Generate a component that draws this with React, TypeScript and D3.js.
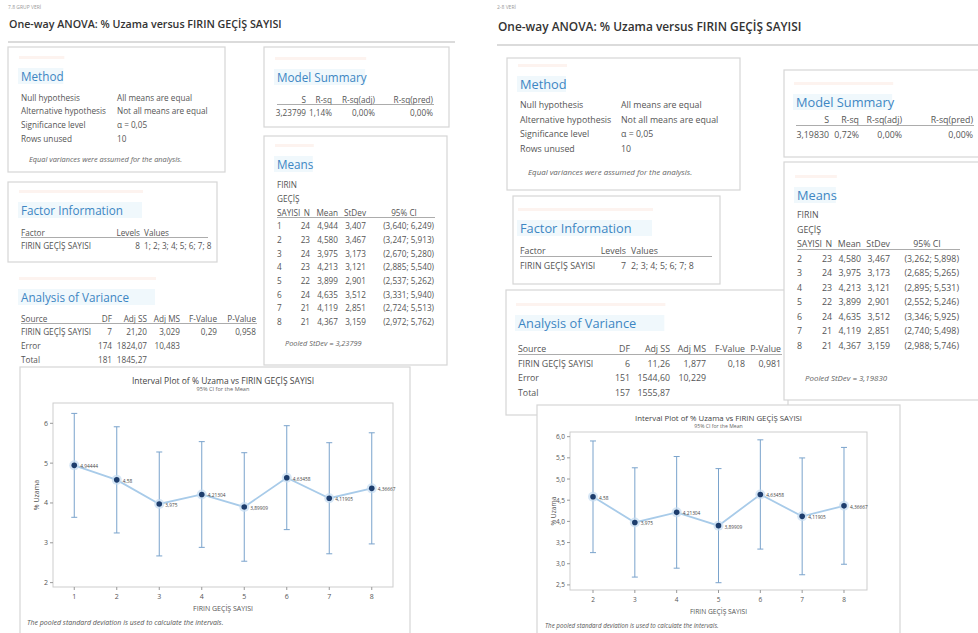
import React from "react";
import * as d3 from "d3";

const FONT = "'Open Sans', 'Noto Sans', Arial, sans-serif";
const HEAD = "#3D86C3";
const TXT = "#555";
const BORDER = "#d6d6d6";

// ---- left output: FIRIN GEÇİŞ SAYISI 1..8
const groupsA = [1, 2, 3, 4, 5, 6, 7, 8];
const nA = [24, 23, 24, 23, 22, 24, 21, 21];
const meanA = [4.944, 4.58, 3.975, 4.213, 3.899, 4.635, 4.119, 4.367];
const sdA = [3.407, 3.467, 3.173, 3.121, 2.901, 3.512, 2.851, 3.159];
const loA = [3.64, 3.247, 2.67, 2.885, 2.537, 3.331, 2.724, 2.972];
const hiA = [6.249, 5.913, 5.28, 5.54, 5.262, 5.94, 5.513, 5.762];
const pointLabelsA = ["4,94444", "4,58", "3,975", "4,21304", "3,89909", "4,63458", "4,11905", "4,36667"];
const yTicksA = [2, 3, 4, 5, 6];
const modelA = ["3,23799", "1,14%", "0,00%", "0,00%"];
const anovaA = [
  ["FIRIN GEÇİŞ SAYISI", "7", "21,20", "3,029", "0,29", "0,958"],
  ["Error", "174", "1824,07", "10,483", "", ""],
  ["Total", "181", "1845,27", "", "", ""],
];

// ---- right output: FIRIN GEÇİŞ SAYISI 2..8
const groupsB = [2, 3, 4, 5, 6, 7, 8];
const nB = [23, 24, 23, 22, 24, 21, 21];
const meanB = [4.58, 3.975, 4.213, 3.899, 4.635, 4.119, 4.367];
const sdB = [3.467, 3.173, 3.121, 2.901, 3.512, 2.851, 3.159];
const loB = [3.262, 2.685, 2.895, 2.552, 3.346, 2.74, 2.988];
const hiB = [5.898, 5.265, 5.531, 5.246, 5.925, 5.498, 5.746];
const pointLabelsB = ["4,58", "3,975", "4,21304", "3,89909", "4,63458", "4,11905", "4,36667"];
const yTicksB = [2.5, 3, 3.5, 4, 4.5, 5, 5.5, 6];
const modelB = ["3,19830", "0,72%", "0,00%", "0,00%"];
const anovaB = [
  ["FIRIN GEÇİŞ SAYISI", "6", "11,26", "1,877", "0,18", "0,981"],
  ["Error", "151", "1544,60", "10,229", "", ""],
  ["Total", "157", "1555,87", "", "", ""],
];

const methodRows = [
  ["Null hypothesis", "All means are equal"],
  ["Alternative hypothesis", "Not all means are equal"],
  ["Significance level", "α = 0,05"],
  ["Rows unused", "10"],
];
const anovaHead = ["Source", "DF", "Adj SS", "Adj MS", "F-Value", "P-Value"];
const modelHead = ["S", "R-sq", "R-sq(adj)", "R-sq(pred)"];
const meansHead = ["N", "Mean", "StDev", "95% CI"];

const comma = (v: number, d = 3) => v.toFixed(d).replace(".", ",");

function Tx({ x, y, s = 7.5, a = "start", c = TXT, w = 400, i = false, children }: any) {
  return (
    <text x={x} y={y} fontSize={s} textAnchor={a} fill={c} fontWeight={w}
      fontStyle={i ? "italic" : "normal"} dominantBaseline="central" fontFamily={FONT}>
      {children}
    </text>
  );
}

function Box({ x, y, w, h }: any) {
  return <rect x={x} y={y} width={w} height={h} fill="#fff" stroke={BORDER} strokeWidth={1.2} />;
}

function Heading({ x, y, s = 10.5, children }: any) {
  const w = s * 0.56 * String(children).length + 6;
  return (
    <g>
      <rect x={x - 2} y={y - 20} width={w} height={3} fill="#fdf3ef" />
      <rect x={x - 3} y={y - 8} width={w} height={16} fill="#f0f8fc" />
      <Tx x={x} y={y} s={s} c={HEAD} w={500}>{children}</Tx>
    </g>
  );
}

function IntervalPlot(p: any) {
  const x = d3.scaleLinear().domain(p.xDomain).range([p.fx0, p.fx1]);
  const y = d3.scaleLinear().domain(p.yDomain).range([p.fy1, p.fy0]);
  const line = d3.line<number>().x((_, i) => x(p.groups[i])).y((d) => y(d));
  const fmt = p.tickFmt || ((v: number) => String(v));
  const cx = (p.fx0 + p.fx1) / 2;
  return (
    <g>
      <Tx x={cx} y={p.titleY} s={p.titleFs} a="middle" c="#444">
        Interval Plot of % Uzama vs FIRIN GEÇİŞ SAYISI
      </Tx>
      <Tx x={cx} y={p.titleY + p.titleFs * 1.05} s={p.titleFs * 0.66} a="middle" c="#666">95% CI for the Mean</Tx>
      <rect x={p.fx0} y={p.fy0} width={p.fx1 - p.fx0} height={p.fy1 - p.fy0} fill="#fff" stroke="#cdcdcd" />
      {p.yTicks.map((t: number) => (
        <g key={t}>
          <line x1={p.fx0 - 3} x2={p.fx0} y1={y(t)} y2={y(t)} stroke="#999" />
          <Tx x={p.fx0 - 5} y={y(t)} s={p.tickFs} a="end" c="#555">{fmt(t)}</Tx>
        </g>
      ))}
      {p.groups.map((g: number) => (
        <g key={g}>
          <line x1={x(g)} x2={x(g)} y1={p.fy1} y2={p.fy1 + 3} stroke="#999" />
          <Tx x={x(g)} y={p.fy1 + 9} s={p.tickFs} a="middle" c="#555">{g}</Tx>
        </g>
      ))}
      <Tx x={cx} y={p.fy1 + 21} s={p.axisFs} a="middle" c="#555">FIRIN GEÇİŞ SAYISI</Tx>
      <g transform={`translate(${p.fx0 - 17},${(p.fy0 + p.fy1) / 2}) rotate(-90)`}>
        <Tx x={0} y={0} s={p.axisFs} a="middle" c="#555">% Uzama</Tx>
      </g>
      {p.groups.map((g: number, i: number) => (
        <g key={"ci" + g} stroke="#7aa3cc" strokeWidth={1}>
          <line x1={x(g)} x2={x(g)} y1={y(p.lo[i])} y2={y(p.hi[i])} />
          <line x1={x(g) - 3} x2={x(g) + 3} y1={y(p.lo[i])} y2={y(p.lo[i])} />
          <line x1={x(g) - 3} x2={x(g) + 3} y1={y(p.hi[i])} y2={y(p.hi[i])} />
        </g>
      ))}
      <path d={line(p.means) || ""} fill="none" stroke="#a8cbe9" strokeWidth={1.8} />
      {p.groups.map((g: number, i: number) => (
        <g key={"pt" + g}>
          <circle cx={x(g)} cy={y(p.means[i])} r={5} fill="#c4dcf1" opacity={0.7} />
          <circle cx={x(g)} cy={y(p.means[i])} r={2.8} fill="#1d3d6d" />
          <Tx x={x(g) + 6} y={y(p.means[i]) + 1} s={4.8} c="#444">{p.labels[i]}</Tx>
        </g>
      ))}
      <Tx x={p.noteX} y={p.fy1 + 35} s={p.noteFs} c="#555" i>
        The pooled standard deviation is used to calculate the intervals.
      </Tx>
    </g>
  );
}

function Panel(p: any) {
  const s = p.s; // body font size
  const hs = p.hs; // heading size
  return (
    <g>
      <Tx x={p.ox} y={7} s={5} c="#999">{p.tag}</Tx>
      <Tx x={p.ox + 1} y={p.titleY} s={p.titleS} c="#333" w={600}>
        One-way ANOVA: % Uzama versus FIRIN GEÇİŞ SAYISI
      </Tx>
      <line x1={p.ox} x2={p.lineX2} y1={p.lineY} y2={p.lineY} stroke="#cfcfcf" strokeWidth={1.5} />

      {/* Method */}
      <Box {...p.method.box} />
      <Heading x={p.method.x} y={p.method.hy} s={hs}>Method</Heading>
      {methodRows.map((r, i) => (
        <g key={r[0]}>
          <Tx x={p.method.x} y={p.method.ry + i * p.rs} s={s}>{r[0]}</Tx>
          <Tx x={p.method.vx} y={p.method.ry + i * p.rs} s={s}>{r[1]}</Tx>
        </g>
      ))}
      <Tx x={p.method.x + 8} y={p.method.ny} s={s * 0.9} c="#666" i>
        Equal variances were assumed for the analysis.
      </Tx>

      {/* Factor Information */}
      <Box {...p.factor.box} />
      <Heading x={p.factor.x} y={p.factor.hy} s={hs}>Factor Information</Heading>
      <Tx x={p.factor.x} y={p.factor.ty} s={s}>Factor</Tx>
      <Tx x={p.factor.lx} y={p.factor.ty} s={s} a="end">Levels</Tx>
      <Tx x={p.factor.vx} y={p.factor.ty} s={s}>Values</Tx>
      <line x1={p.factor.x} x2={p.factor.ux} y1={p.factor.ty + 5.5} y2={p.factor.ty + 5.5} stroke="#888" strokeWidth={0.7} />
      <Tx x={p.factor.x} y={p.factor.ty + p.rs} s={s}>FIRIN GEÇİŞ SAYISI</Tx>
      <Tx x={p.factor.lx} y={p.factor.ty + p.rs} s={s} a="end">{p.groups.length}</Tx>
      <Tx x={p.factor.vx} y={p.factor.ty + p.rs} s={s}>{p.groups.join("; ")}</Tx>

      {/* Analysis of Variance */}
      {p.anova.box && <Box {...p.anova.box} />}
      <Heading x={p.anova.x} y={p.anova.hy} s={hs}>Analysis of Variance</Heading>
      {anovaHead.map((h, j) => (
        <Tx key={h} x={j === 0 ? p.anova.x : p.anova.cols[j - 1]} y={p.anova.ty} s={s} a={j === 0 ? "start" : "end"}>{h}</Tx>
      ))}
      <line x1={p.anova.x} x2={p.anova.cols[4] + 1} y1={p.anova.ty + 5.5} y2={p.anova.ty + 5.5} stroke="#888" strokeWidth={0.7} />
      {p.anovaRows.map((r: string[], i: number) =>
        r.map((v, j) => (
          <Tx key={i + "-" + j} x={j === 0 ? p.anova.x : p.anova.cols[j - 1]} y={p.anova.ty + (i + 1) * p.rs} s={s} a={j === 0 ? "start" : "end"}>{v}</Tx>
        ))
      )}

      {/* Model Summary */}
      <Box {...p.model.box} />
      <Heading x={p.model.x} y={p.model.hy} s={hs}>Model Summary</Heading>
      {modelHead.map((h, j) => (
        <Tx key={h} x={p.model.cols[j]} y={p.model.ty} s={s} a="end">{h}</Tx>
      ))}
      <line x1={p.model.x} x2={p.model.cols[3] + 1} y1={p.model.ty + 5.5} y2={p.model.ty + 5.5} stroke="#888" strokeWidth={0.7} />
      {p.modelVals.map((v: string, j: number) => (
        <Tx key={j} x={p.model.cols[j]} y={p.model.ty + p.rs} s={s} a="end">{v}</Tx>
      ))}

      {/* Means */}
      <Box {...p.means.box} />
      <Heading x={p.means.x} y={p.means.hy} s={hs}>Means</Heading>
      <Tx x={p.means.x} y={p.means.ty - 2 * p.rs} s={s}>FIRIN</Tx>
      <Tx x={p.means.x} y={p.means.ty - p.rs} s={s}>GEÇİŞ</Tx>
      <Tx x={p.means.x} y={p.means.ty} s={s}>SAYISI</Tx>
      {meansHead.map((h, j) => (
        <Tx key={h} x={j === 3 ? p.means.ciMid : p.means.cols[j]} y={p.means.ty} s={s} a={j === 3 ? "middle" : "end"}>{h}</Tx>
      ))}
      <line x1={p.means.x} x2={p.means.cols[3] + 1} y1={p.means.ty + 5.5} y2={p.means.ty + 5.5} stroke="#888" strokeWidth={0.7} />
      {p.groups.map((g: number, i: number) => {
        const yy = p.means.ty + (i + 1) * p.rs;
        return (
          <g key={g}>
            <Tx x={p.means.x} y={yy} s={s}>{g}</Tx>
            <Tx x={p.means.cols[0]} y={yy} s={s} a="end">{p.n[i]}</Tx>
            <Tx x={p.means.cols[1]} y={yy} s={s} a="end">{comma(p.mean[i])}</Tx>
            <Tx x={p.means.cols[2]} y={yy} s={s} a="end">{comma(p.sd[i])}</Tx>
            <Tx x={p.means.cols[3]} y={yy} s={s} a="end">{`(${comma(p.lo[i])}; ${comma(p.hi[i])})`}</Tx>
          </g>
        );
      })}
      <Tx x={p.means.x + 8} y={p.means.py} s={s * 0.9} c="#666" i>{`Pooled StDev = ${p.modelVals[0]}`}</Tx>

      {/* Interval plot */}
      <Box {...p.plotBox} />
      <IntervalPlot {...p.plot} groups={p.groups} means={p.mean} lo={p.lo} hi={p.hi} />
    </g>
  );
}

export default function App() {
  return (
    <svg width={978} height={633} style={{ position: "absolute", left: 0, top: 0, background: "#fff" }}>
      <rect width={978} height={633} fill="#fff" />
      <Panel
        tag="7.8 GRUP VERİ" ox={8} titleY={24} titleS={10.7} lineY={42} lineX2={455} s={8.2} hs={11.7} rs={13.7}
        groups={groupsA} n={nA} mean={meanA} sd={sdA} lo={loA} hi={hiA}
        modelVals={modelA} anovaRows={anovaA}
        method={{ box: { x: 8, y: 47, w: 217, h: 125 }, x: 21, hy: 76, ry: 97, vx: 117, ny: 159 }}
        factor={{ box: { x: 8, y: 182, w: 209, h: 80 }, x: 21, hy: 210, ty: 232, lx: 140, vx: 144, ux: 208 }}
        anova={{ x: 21, hy: 297, ty: 318, cols: [112, 147, 180, 217, 256] }}
        model={{ box: { x: 264, y: 47, w: 185, h: 80 }, x: 277, hy: 77, ty: 99, cols: [306, 332, 375, 433] }}
        means={{ box: { x: 264, y: 136, w: 183, h: 229 }, x: 277, hy: 164, ty: 212, cols: [310, 338, 366, 434], ciMid: 404, py: 343 }}
        plotBox={{ x: 20, y: 367, w: 390, h: 270 }}
        plot={{ fx0: 53, fx1: 393, fy0: 403, fy1: 587, xDomain: [0.5, 8.5], yDomain: [1.89, 6.51], yTicks: yTicksA,
          labels: pointLabelsA, titleY: 380, titleFs: 8.5, tickFs: 7, axisFs: 7, noteFs: 7, noteX: 27 }}
      />
      <Panel
        tag="2-8 VERİ" ox={497} titleY={26} titleS={11.9} lineY={45} lineX2={978} s={8.8} hs={12.8} rs={14.5}
        groups={groupsB} n={nB} mean={meanB} sd={sdB} lo={loB} hi={hiB}
        modelVals={modelB} anovaRows={anovaB}
        method={{ box: { x: 507, y: 58, w: 233, h: 132 }, x: 520, hy: 84, ry: 105, vx: 621, ny: 172 }}
        factor={{ box: { x: 513, y: 196, w: 207, h: 88 }, x: 520, hy: 228, ty: 251, lx: 626, vx: 631, ux: 712 }}
        anova={{ box: { x: 506, y: 290, w: 282, h: 125 }, x: 518, hy: 323, ty: 349, cols: [630, 670, 706, 745, 781] }}
        model={{ box: { x: 784, y: 70, w: 200, h: 87 }, x: 796, hy: 102, ty: 120, cols: [829, 859, 902, 973] }}
        means={{ box: { x: 784, y: 162, w: 200, h: 238 }, x: 797, hy: 195, ty: 244, cols: [832, 861, 890, 959], ciMid: 927, py: 378 }}
        plotBox={{ x: 537, y: 405, w: 363, h: 232 }}
        plot={{ fx0: 570, fx1: 867, fy0: 432, fy1: 590, xDomain: [1.45, 8.55], yDomain: [2.38, 6.11], yTicks: yTicksB,
          tickFmt: (v: number) => comma(v, 1), labels: pointLabelsB, titleY: 418, titleFs: 7.8, tickFs: 6.5, axisFs: 6.7, noteFs: 6.2, noteX: 545 }}
      />
    </svg>
  );
}
